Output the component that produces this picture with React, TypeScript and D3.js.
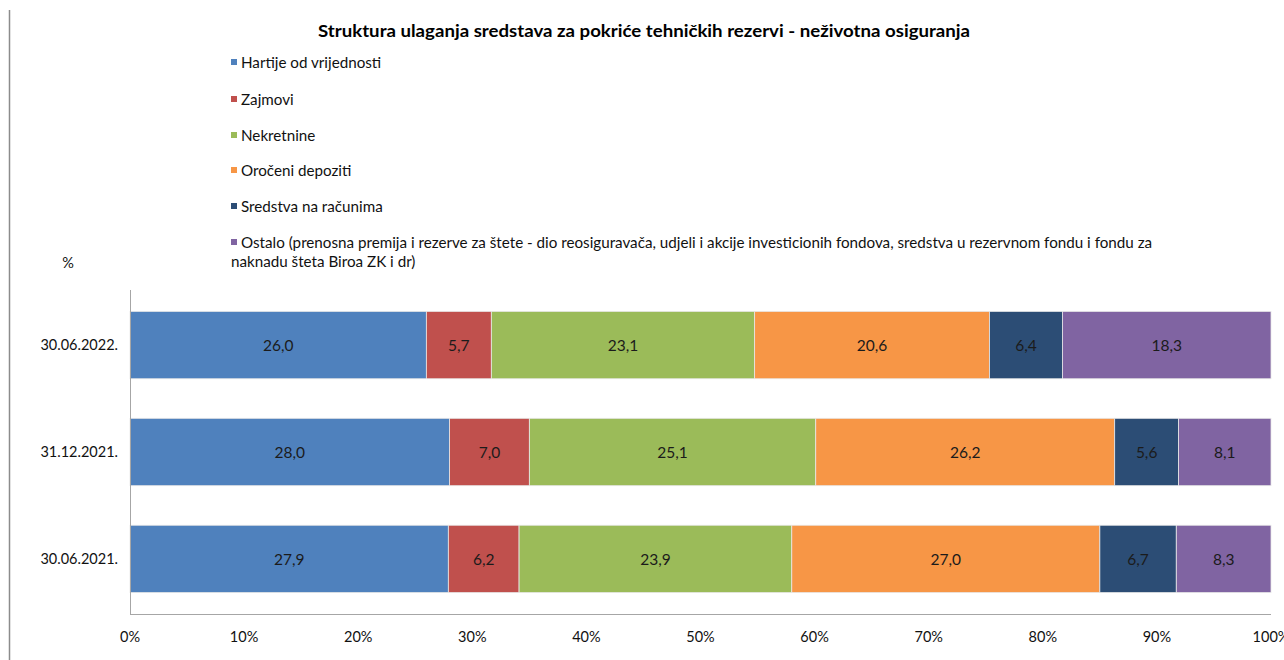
import React, { useEffect, useRef } from "react";
import * as d3 from "d3";

const categories = ["30.06.2022.", "31.12.2021.", "30.06.2021."];
const seriesNames = [
  "Hartije od vrijednosti",
  "Zajmovi",
  "Nekretnine",
  "Oročeni depoziti",
  "Sredstva na računima",
  "Ostalo (prenosna premija i rezerve za štete - dio reosiguravača, udjeli i akcije investicionih fondova, sredstva u rezervnom fondu i fondu za|naknadu šteta Biroa ZK i dr)",
];
const seriesColors = ["#4F81BD", "#C0504D", "#9BBB59", "#F79646", "#2C4D75", "#8064A2"];
// values per category, in series order
const values2022 = [26.0, 5.7, 23.1, 20.6, 6.4, 18.3];
const values2021Dec = [28.0, 7.0, 25.1, 26.2, 5.6, 8.1];
const values2021Jun = [27.9, 6.2, 23.9, 27.0, 6.7, 8.3];
const tickValues = [0, 0.1, 0.2, 0.3, 0.4, 0.5, 0.6, 0.7, 0.8, 0.9, 1];

const FONT = "Lato, 'Open Sans', sans-serif";

const App = () => {
  const ref = useRef<SVGSVGElement>(null);

  useEffect(() => {
    const svg = d3.select(ref.current);
    svg.selectAll("*").remove();

    const rows = [values2022, values2021Dec, values2021Jun];

    // outer left border
    svg.append("line")
      .attr("x1", 9.5).attr("x2", 9.5).attr("y1", 10).attr("y2", 660)
      .attr("stroke", "#8c8c8c").attr("stroke-width", 1.5);

    svg.append("text")
      .attr("x", 318).attr("y", 37)
      .attr("textLength", 652).attr("lengthAdjust", "spacingAndGlyphs")
      .attr("font-family", FONT).attr("font-weight", "bold").attr("font-size", 17)
      .attr("fill", "#000")
      .text("Struktura ulaganja sredstava za pokriće tehničkih rezervi - neživotna osiguranja");

    // legend
    const legendY = [63, 100, 136, 171, 207, 243];
    seriesNames.forEach((name, i) => {
      const g = svg.append("g");
      g.append("rect")
        .attr("x", 231).attr("y", legendY[i] - 4).attr("width", 6).attr("height", 6)
        .attr("fill", seriesColors[i]);
      name.split("|").forEach((line, j) => {
        g.append("text")
          .attr("x", j === 0 ? 241 : 231).attr("y", legendY[i] + 5 + j * 19)
          .attr("font-family", FONT).attr("font-size", 15.2).attr("fill", "#111")
          .text(line);
      });
    });

    svg.append("text")
      .attr("x", 68).attr("y", 268).attr("text-anchor", "middle")
      .attr("font-family", FONT).attr("font-size", 14.5).attr("fill", "#111")
      .text("%");

    const x = d3.scaleLinear().domain([0, 1]).range([130, 1271]);
    const y = d3.scaleBand().domain(categories).range([290, 614]).paddingInner(0.37).paddingOuter(0.2);

    const stacked = rows.map((vals) => {
      const total = d3.sum(vals);
      let acc = 0;
      return vals.map((v, i) => {
        const x0 = acc / total;
        acc += v;
        return { x0, x1: acc / total, v, i };
      });
    });

    stacked.forEach((segs, r) => {
      const g = svg.append("g");
      segs.forEach((s) => {
        g.append("rect")
          .attr("x", x(s.x0)).attr("y", y(categories[r])!)
          .attr("width", x(s.x1) - x(s.x0)).attr("height", y.bandwidth())
          .attr("fill", seriesColors[s.i])
          .attr("stroke", "#e8e8e8").attr("stroke-width", 0.8);
        g.append("text")
          .attr("x", (x(s.x0) + x(s.x1)) / 2)
          .attr("y", y(categories[r])! + y.bandwidth() / 2 + 6)
          .attr("text-anchor", "middle")
          .attr("font-family", FONT).attr("font-size", 15.5).attr("fill", "#1b1b1b")
          .text(d3.format(".1f")(s.v).replace(".", ","));
      });
      g.append("text")
        .attr("x", 118).attr("y", y(categories[r])! + y.bandwidth() / 2 + 5)
        .attr("text-anchor", "end")
        .attr("font-family", FONT).attr("font-size", 14.5).attr("fill", "#111")
        .text(categories[r]);
    });

    // axes
    svg.append("line")
      .attr("x1", 130.5).attr("x2", 130.5).attr("y1", 290).attr("y2", 614)
      .attr("stroke", "#a6a6a6");
    svg.append("line")
      .attr("x1", 130).attr("x2", 1271).attr("y1", 614.5).attr("y2", 614.5)
      .attr("stroke", "#a6a6a6");

    svg.append("g").selectAll("text")
      .data(tickValues)
      .join("text")
      .attr("x", (d) => x(d)).attr("y", 642)
      .attr("text-anchor", "middle")
      .attr("font-family", FONT).attr("font-size", 14.5).attr("fill", "#111")
      .text((d) => d3.format(".0%")(d));
  }, []);

  return (
    <svg ref={ref} width={1284} height={660}
      style={{ position: "absolute", left: 0, top: 0, background: "#fff" }} />
  );
};

export default App;
